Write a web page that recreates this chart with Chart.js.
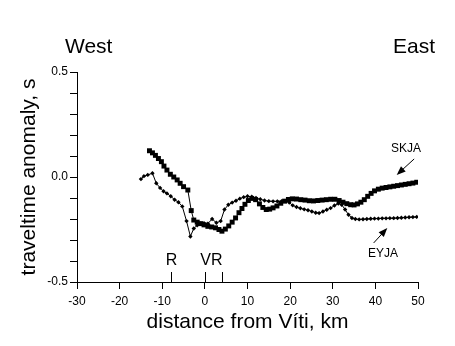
<!DOCTYPE html>
<html>
<head>
<meta charset="utf-8">
<script src="https://cdn.jsdelivr.net/npm/chart.js@4/dist/chart.umd.min.js"></script>
<style>
  html, body { margin: 0; padding: 0; background: #ffffff; }
  canvas { display: block; }
</style>
</head>
<body>
<canvas id="profile" width="455" height="346"></canvas>
<script>
// Station SKJA: distance along profile (km) and traveltime anomaly (s)
const skjaKm = [-13, -12.3, -11.6, -10.9, -10.2, -9.6, -8.9, -8.1, -7.3, -6.5, -5.8, -5.0, -4.0,
  -3.2, -2.6, -1.8, -1.0, -0.2, 0.7, 1.6, 2.5, 3.3, 4.0, 4.8, 5.6, 6.4, 7.2, 8.0, 8.7, 9.4,
  10.2, 11.0, 11.9, 12.8, 13.6, 14.4, 15.2, 16.0, 16.9, 17.8, 18.7, 19.6, 20.5, 21.5, 22.5,
  23.5, 24.5, 25.5, 26.5, 27.5, 28.5, 29.5, 30.5, 31.5, 32.4, 33.3, 34.2, 35.0, 35.8, 36.6,
  37.4, 38.2, 39.0, 39.8, 40.7, 41.6, 42.5, 43.4, 44.3, 45.2, 46.1, 47.0, 47.9, 48.8, 49.7];
const skjaAnomaly = [0.125, 0.115, 0.103, 0.088, 0.073, 0.052, 0.033, 0.013, 0.0, -0.014, -0.03, -0.046, -0.062,
  -0.16, -0.205, -0.215, -0.222, -0.228, -0.235, -0.238, -0.242, -0.25, -0.258, -0.248, -0.233, -0.215, -0.195, -0.17, -0.15, -0.13,
  -0.112, -0.102, -0.108, -0.128, -0.145, -0.155, -0.153, -0.147, -0.138, -0.125, -0.115, -0.107, -0.104, -0.105, -0.108,
  -0.11, -0.113, -0.114, -0.112, -0.11, -0.108, -0.106, -0.106, -0.112, -0.12, -0.127, -0.132, -0.133, -0.128, -0.12,
  -0.108, -0.092, -0.078, -0.066, -0.058, -0.053, -0.05, -0.047, -0.044, -0.041, -0.038, -0.035, -0.032, -0.029, -0.025];

// Station EYJA
const eyjaKm = [-15.0, -14.3, -13.4, -12.3, -11.4, -10.5, -9.7, -8.9, -8.0, -7.1, -6.2, -5.3, -4.3,
  -3.4, -2.6, -1.8, -1.0, -0.2, 0.7, 1.7, 2.7, 3.7, 4.6, 5.5, 6.4, 7.3, 8.2, 9.1, 10.0, 11.0,
  12.0, 13.0, 14.0, 15.0, 16.0, 17.0, 18.0, 19.0, 19.8, 20.6, 21.5, 22.4, 23.3, 24.2, 25.1,
  26.0, 26.8, 27.7, 28.6, 29.5, 30.4, 31.3, 32.1, 32.9, 33.7, 34.5, 35.3, 36.2, 37.1, 38.0,
  38.9, 39.8, 40.7, 41.6, 42.5, 43.4, 44.3, 45.2, 46.1, 47.0, 47.9, 48.8, 49.7];
const eyjaAnomaly = [-0.01, 0.004, 0.01, 0.018, -0.03, -0.052, -0.068, -0.078, -0.092, -0.108, -0.12, -0.14, -0.21,
  -0.283, -0.245, -0.23, -0.222, -0.22, -0.222, -0.2, -0.218, -0.21, -0.155, -0.132, -0.122, -0.113, -0.103, -0.096, -0.092, -0.094,
  -0.1, -0.106, -0.112, -0.115, -0.116, -0.116, -0.115, -0.115, -0.122, -0.135, -0.143, -0.149, -0.154, -0.158, -0.164,
  -0.17, -0.172, -0.164, -0.156, -0.148, -0.136, -0.126, -0.132, -0.155, -0.18, -0.195, -0.2, -0.202, -0.201, -0.2,
  -0.199, -0.198, -0.198, -0.197, -0.197, -0.196, -0.196, -0.195, -0.194, -0.193, -0.192, -0.191, -0.19];

// Features marked along the profile (km from Víti)
const featureKm = [-8, 0, 4];
const featureLabels = ['R', 'V', 'R'];

// Axis ranges and labelled y ticks
const xRange = [-30, 50];
const yRange = [-0.5, 0.5];
const yLabelledTicks = [-0.5, 0.0, 0.5];

const FONT = "'Liberation Sans', Arial, sans-serif";

const toPoints = (xs, ys) => xs.map((x, i) => ({ x: x, y: ys[i] }));

function arrow(ctx, x0, y0, x1, y1) {
  const ang = Math.atan2(y1 - y0, x1 - x0);
  const head = 9, half = 3.5;
  ctx.beginPath();
  ctx.moveTo(x0, y0);
  ctx.lineTo(x1 - head * 0.6 * Math.cos(ang), y1 - head * 0.6 * Math.sin(ang));
  ctx.stroke();
  ctx.beginPath();
  ctx.moveTo(x1, y1);
  ctx.lineTo(x1 - head * Math.cos(ang) + half * Math.sin(ang), y1 - head * Math.sin(ang) - half * Math.cos(ang));
  ctx.lineTo(x1 - head * Math.cos(ang) - half * Math.sin(ang), y1 - head * Math.sin(ang) + half * Math.cos(ang));
  ctx.closePath();
  ctx.fill();
}

const annotations = {
  id: 'profileAnnotations',
  afterDraw(chart, args, opts) {
    const { ctx, chartArea } = chart;
    const xs = chart.scales.x, ys = chart.scales.y;
    ctx.save();
    ctx.fillStyle = '#000';
    ctx.strokeStyle = '#000';
    ctx.lineWidth = 1;

    // compass directions above the plot
    ctx.font = '21px ' + FONT;
    ctx.textBaseline = 'alphabetic';
    ctx.textAlign = 'left';
    ctx.fillText('West', chartArea.left - 12, chartArea.top - 19);
    ctx.textAlign = 'right';
    ctx.fillText('East', chartArea.right + 17, chartArea.top - 19);

    // station labels with arrows pointing to their curves
    ctx.font = '12px ' + FONT;
    ctx.textAlign = 'center';
    ctx.textBaseline = 'middle';
    opts.stations.forEach(s => {
      ctx.fillText(s.text, xs.getPixelForValue(s.label[0]), ys.getPixelForValue(s.label[1]));
      arrow(ctx,
        xs.getPixelForValue(s.from[0]), ys.getPixelForValue(s.from[1]),
        xs.getPixelForValue(s.to[0]), ys.getPixelForValue(s.to[1]));
    });

    // feature markers rising from the distance axis
    const base = chartArea.bottom;
    ctx.font = '16px ' + FONT;
    ctx.textBaseline = 'alphabetic';
    featureKm.forEach((km, i) => {
      const px = Math.round(xs.getPixelForValue(km)) + 0.5;
      ctx.beginPath();
      ctx.moveTo(px, base - 10);
      ctx.lineTo(px, base);
      ctx.stroke();
      const align = opts.featureAlign[i];
      ctx.textAlign = align;
      ctx.fillText(featureLabels[i], px, base - 17);
    });
    ctx.restore();
  }
};

new Chart(document.getElementById('profile'), {
  type: 'scatter',
  data: {
    datasets: [
      {
        label: 'SKJA',
        data: toPoints(skjaKm, skjaAnomaly),
        showLine: true,
        borderColor: '#000',
        borderWidth: 1,
        backgroundColor: '#000',
        pointStyle: 'rect',
        pointRadius: 3.5,
        pointBorderWidth: 0,
        tension: 0
      },
      {
        label: 'EYJA',
        data: toPoints(eyjaKm, eyjaAnomaly),
        showLine: true,
        borderColor: '#000',
        borderWidth: 1,
        backgroundColor: '#000',
        pointStyle: 'rectRot',
        pointRadius: 2.2,
        pointBorderWidth: 0,
        tension: 0
      }
    ]
  },
  options: {
    responsive: false,
    devicePixelRatio: 1,
    animation: false,
    layout: { padding: { top: 72, right: 37, left: 0, bottom: 0 } },
    plugins: {
      legend: { display: false },
      tooltip: { enabled: false },
      profileAnnotations: {
        stations: [
          { text: 'SKJA', label: [47.2, 0.133], from: [49.1, 0.086], to: [45.0, 0.01] },
          { text: 'EYJA', label: [41.8, -0.367], from: [39.6, -0.314], to: [42.8, -0.243] }
        ],
        featureAlign: ['center', 'center', 'right']
      }
    },
    scales: {
      x: {
        type: 'linear',
        min: xRange[0],
        max: xRange[1],
        afterFit: s => { s.height = 64; },
        border: { display: true, color: '#000', width: 1 },
        grid: { display: true, drawOnChartArea: false, drawTicks: true, tickLength: 7, color: '#000' },
        ticks: {
          stepSize: 10,
          color: '#000',
          padding: 5,
          maxRotation: 0,
          font: { family: FONT, size: 12 },
          callback: v => String(v)
        },
        title: {
          display: true,
          text: 'distance from Víti, km',
          color: '#000',
          font: { family: FONT, size: 21 },
          padding: { top: 0, bottom: 11 }
        }
      },
      y: {
        type: 'linear',
        min: yRange[0],
        max: yRange[1],
        afterFit: s => { s.width = 77; },
        border: { display: true, color: '#000', width: 1 },
        grid: { display: true, drawOnChartArea: false, drawTicks: true, tickLength: 7, color: '#000' },
        ticks: {
          stepSize: 0.1,
          color: '#000',
          padding: 2,
          font: { family: FONT, size: 12 },
          callback: v => {
            const r = Math.round(v * 10) / 10;
            return yLabelledTicks.some(t => Math.abs(t - r) < 1e-9) ? r.toFixed(1) : '';
          }
        },
        title: {
          display: true,
          text: 'traveltime anomaly, s',
          color: '#000',
          font: { family: FONT, size: 21 },
          padding: { top: 17, bottom: 0 }
        }
      }
    }
  },
  plugins: [annotations]
});
</script>
</body>
</html>
